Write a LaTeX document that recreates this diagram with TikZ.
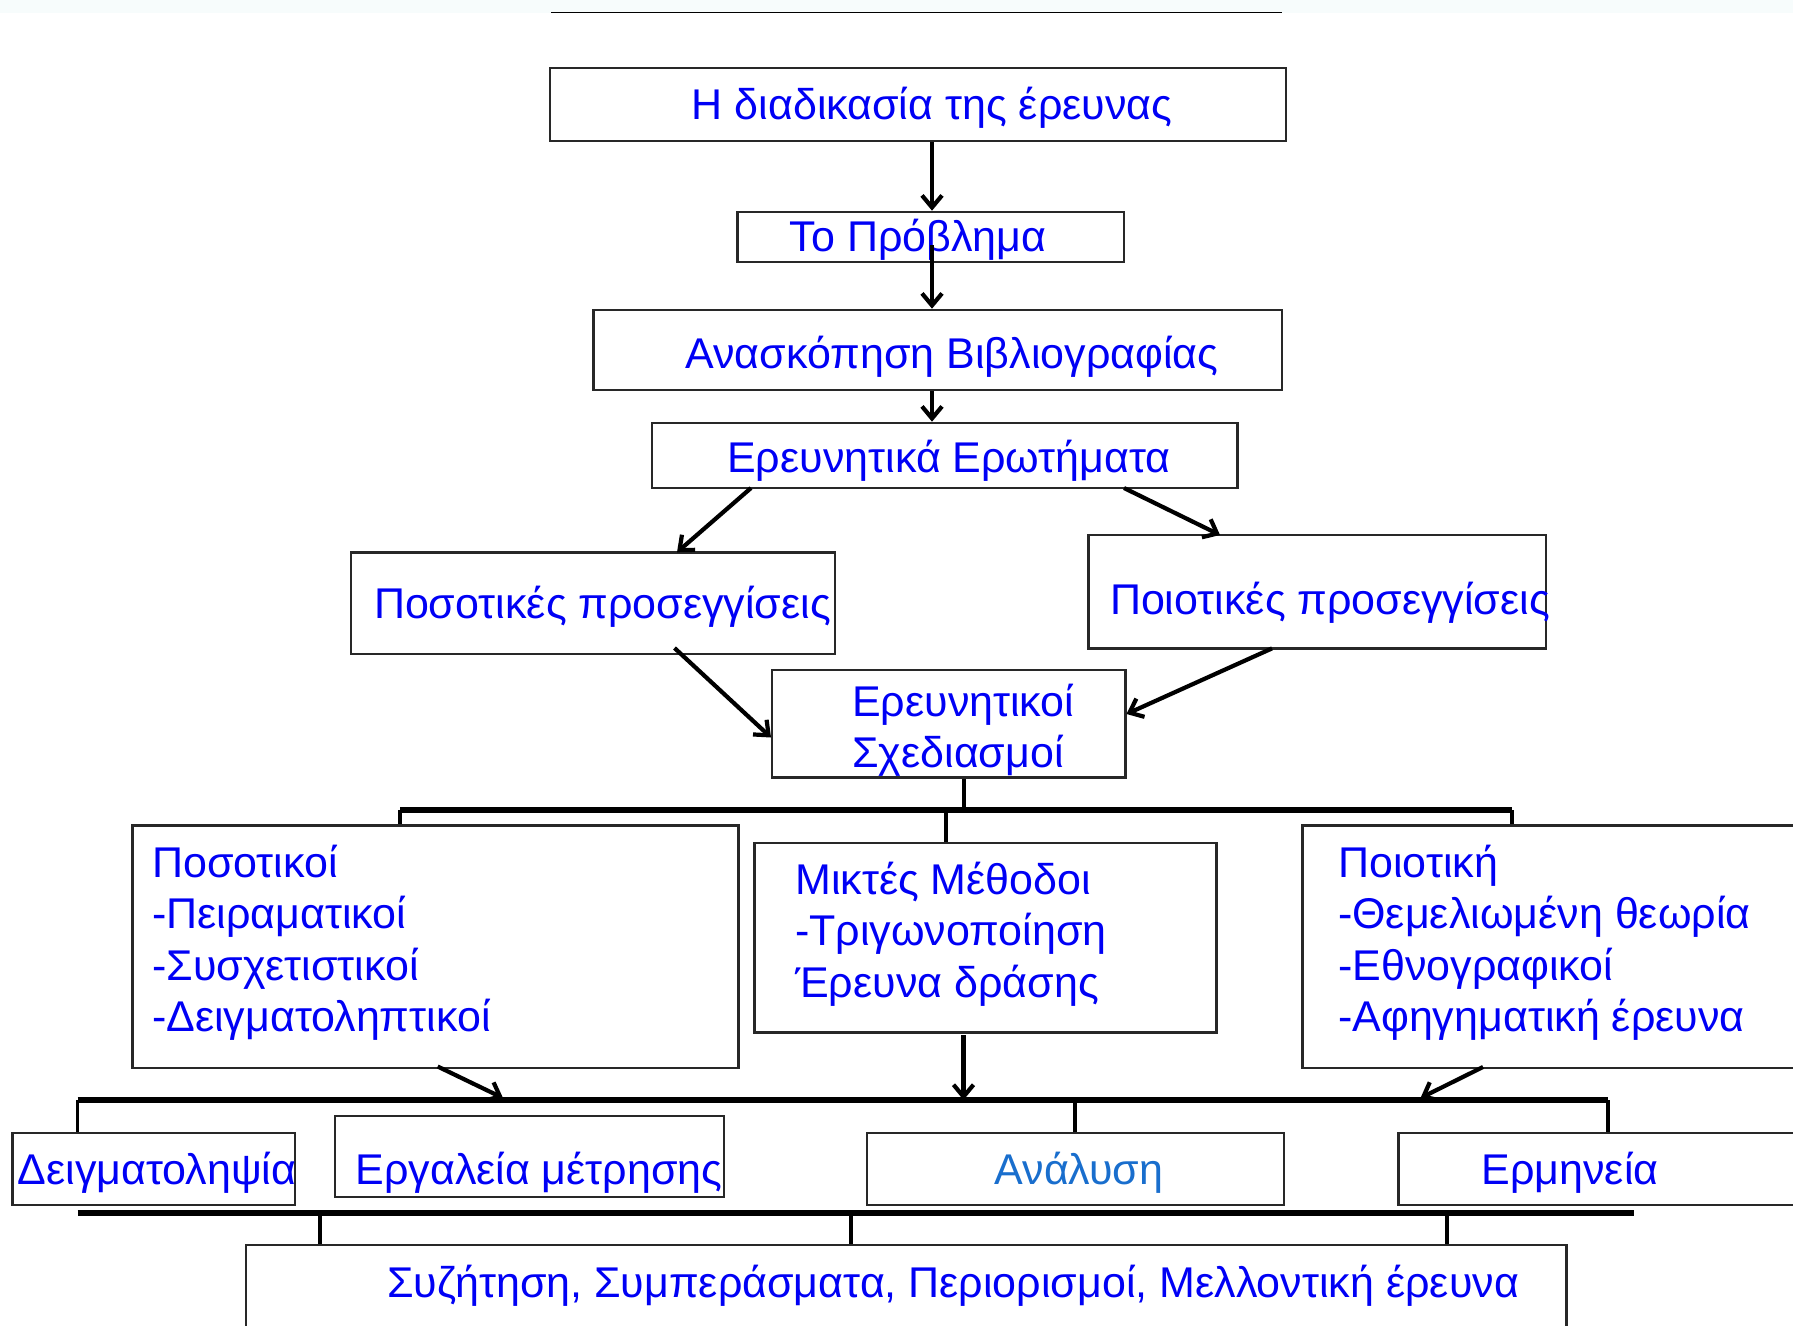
\documentclass[tikz,border=0pt]{standalone}
\usepackage{fontspec}
\setmainfont{Liberation Sans}
\usetikzlibrary{fit,arrows.meta}
\definecolor{txtblue}{RGB}{0,0,245}
\definecolor{anblue}{RGB}{25,110,205}
\definecolor{boxline}{RGB}{40,40,40}
\definecolor{strip}{RGB}{247,252,252}
\begin{document}
\begin{tikzpicture}[x=1pt,y=-1pt,
  box/.style={draw=boxline, line width=2.6pt, inner sep=0pt},
  txt/.style={font=\fontsize{43}{50}\selectfont, text=txtblue, inner sep=0pt},
  arr/.style={line width=4.2pt, -{Straight Barb[length=12pt,width=20pt]}},
  bar/.style={line width=6pt},
  drop/.style={line width=3.5pt}]
\useasboundingbox (0,0) rectangle (1793,1325);
\fill[strip] (0,0) rectangle (1793,13);
\coordinate (tl1) at (551,12.5);
\coordinate (tl2) at (1282,12.5);
\draw[line width=1.5pt] (tl1) -- (tl2);

% boxes
\node[box, fit={(550,68) (1286,141)}] (b1) {};
\node[box, fit={(737.5,212) (1124,262)}] (b2) {};
\node[box, fit={(593.5,310) (1282,390)}] (b3) {};
\node[box, fit={(651.8,423) (1237.3,488)}] (b4) {};
\node[box, fit={(351,552.3) (834.8,654)}] (b5) {};
\node[box, fit={(1088.6,535) (1546,648.4)}] (b6) {};
\node[box, fit={(771.9,670) (1125.2,777.6)}] (b7) {};
\node[box, fit={(132.6,825.6) (738.7,1068)}] (b8) {};
\node[box, fit={(754.7,842.8) (1216.7,1032.6)}] (b9) {};
\node[box, fit={(1302.5,825.6) (1800,1068)}] (b10) {};
\node[box, fit={(12.6,1133) (295,1205)}] (b11) {};
\node[box, fit={(335,1116) (723.8,1197)}] (b12) {};
\node[box, fit={(866.8,1133) (1284,1205)}] (b13) {};
\node[box, fit={(1398.5,1133) (1800,1205)}] (b14) {};
\node[box, fit={(245.9,1245) (1566.6,1330)}] (b15) {};

% texts
\node[txt, anchor=base] (t1) at (932,119) {Η διαδικασία της έρευνας};
\node[txt, anchor=base] (t2) at (918,251.5) {Το Πρόβλημα};
\node[txt, anchor=base] (t3) at (952,368) {Ανασκόπηση Βιβλιογραφίας};
\node[txt, anchor=base] (t4) at (949,472) {Ερευνητικά Ερωτήματα};
\node[txt, anchor=base] (t5) at (602.5,618.5) {Ποσοτικές προσεγγίσεις};
\node[txt, anchor=base] (t6) at (1330,614) {Ποιοτικές προσεγγίσεις};
\node[txt, anchor=base west] (t7a) at (852,716) {Ερευνητικοί};
\node[txt, anchor=base west] (t7b) at (852,767) {Σχεδιασμοί};
\node[txt, anchor=base west] (t8a) at (152,877) {Ποσοτικοί};
\node[txt, anchor=base west] (t8b) at (152,928.5) {-Πειραματικοί};
\node[txt, anchor=base west] (t8c) at (152,980) {-Συσχετιστικοί};
\node[txt, anchor=base west] (t8d) at (152,1031.5) {-Δειγματοληπτικοί};
\node[txt, anchor=base west] (t9a) at (795,894) {Μικτές Μέθοδοι};
\node[txt, anchor=base west] (t9b) at (795,945.5) {-Τριγωνοποίηση};
\node[txt, anchor=base west] (t9c) at (795,997) {Έρευνα δράσης};
\node[txt, anchor=base west] (t10a) at (1338,877) {Ποιοτική};
\node[txt, anchor=base west] (t10b) at (1338,928.5) {-Θεμελιωμένη θεωρία};
\node[txt, anchor=base west] (t10c) at (1338,980) {-Εθνογραφικοί};
\node[txt, anchor=base west] (t10d) at (1338,1031.5) {-Αφηγηματική έρευνα};
\node[txt, anchor=base] (t11) at (157,1184.5) {Δειγματοληψία};
\node[txt, anchor=base] (t12) at (539,1184.5) {Εργαλεία μέτρησης};
\node[txt, anchor=base, text=anblue] (t13) at (1079,1184.5) {Ανάλυση};
\node[txt, anchor=base] (t14) at (1570,1184.5) {Ερμηνεία};
\node[txt, anchor=base] (t15) at (953,1297) {Συζήτηση, Συμπεράσματα, Περιορισμοί, Μελλοντική έρευνα};

% upper arrows
\coordinate (ax) at (932,0);
\coordinate (p2) at (932,245);
\draw[arr] (b1.south -| ax) -- (b2.north -| ax);
\draw[arr] (p2) -- (b3.north -| ax);
\draw[arr] (b3.south -| ax) -- (b4.north -| ax);
\coordinate (s45) at (751,488);
\coordinate (e45) at (677,552.3);
\draw[arr] (s45) -- (e45);
\coordinate (s46) at (1124,488);
\coordinate (e46) at (1220,535);
\draw[arr] (s46) -- (e46);
\coordinate (s57) at (674.5,648);
\coordinate (e57) at (771,737.5);
\draw[arr] (s57) -- (e57);
\coordinate (s67) at (1272,648.4);
\coordinate (e67) at (1126.5,714);
\draw[arr] (s67) -- (e67);

% bar 1
\coordinate (st) at (964,810);
\coordinate (r1L) at (400,810);
\coordinate (r1M) at (946,810);
\coordinate (r1R) at (1512,810);
\draw[drop] (b7.south -| st) -- (st);
\draw[bar] (r1L) -- (r1R);
\draw[drop] (r1L) -- (b8.north -| r1L);
\draw[drop] (r1M) -- (b9.north -| r1M);
\draw[drop] (r1R) -- (b10.north -| r1R);

% bar 2
\coordinate (r2L) at (77.7,1100);
\coordinate (r2M) at (1075,1100);
\coordinate (r2R) at (1608,1100);
\draw[bar] (r2L) -- (r2R);
\draw[drop] (r2L) -- (b11.north -| r2L);
\draw[drop] (r2M) -- (b13.north -| r2M);
\draw[drop] (r2R) -- (b14.north -| r2R);
\coordinate (s8) at (437.7,1066.5);
\coordinate (e8) at (503,1098);
\draw[arr] (s8) -- (e8);
\coordinate (s9) at (963.5,1035);
\coordinate (e9) at (963.5,1100);
\draw[arr] (s9) -- (e9);
\coordinate (s10) at (1483,1067);
\coordinate (e10) at (1420.5,1098);
\draw[arr] (s10) -- (e10);

% bar 3
\coordinate (r3L) at (77.7,1213);
\coordinate (r3R) at (1634,1213);
\coordinate (d1) at (320,1213);
\coordinate (d2) at (851,1213);
\coordinate (d3) at (1447,1213);
\draw[bar] (r3L) -- (r3R);
\draw[drop] (d1) -- (b15.north -| d1);
\draw[drop] (d2) -- (b15.north -| d2);
\draw[drop] (d3) -- (b15.north -| d3);
\end{tikzpicture}
\end{document}
